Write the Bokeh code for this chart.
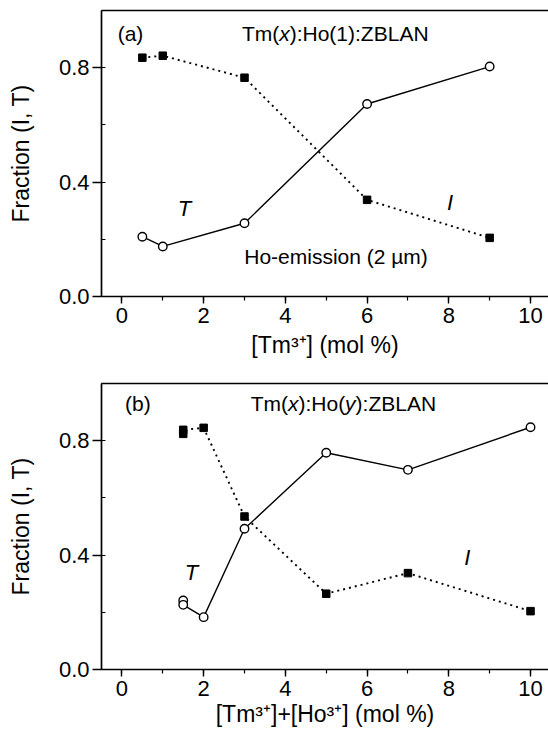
from bokeh.plotting import figure
from bokeh.models import (Range1d, SingleIntervalTicker, PrintfTickFormatter,
                          LinearAxis, Label, FixedTicker)
from bokeh.layouts import column
from bokeh.embed import file_html
from bokeh.resources import INLINE

# ---------------- data ----------------
# panel (a): Tm(x):Ho(1):ZBLAN
a_x = [0.5, 1, 3, 6, 9]
a_T = [0.209, 0.175, 0.256, 0.673, 0.804]
a_I = [0.835, 0.842, 0.765, 0.338, 0.205]

# panel (b): Tm(x):Ho(y):ZBLAN
b_x = [1.5, 1.5, 2, 3, 5, 7, 10]
b_T = [0.241, 0.226, 0.183, 0.492, 0.758, 0.698, 0.847]
b_I = [0.824, 0.838, 0.845, 0.535, 0.265, 0.337, 0.204]

x_ticks_interval = 2
y_ticks_interval = 0.4
y_title = "Fraction (I, T)"
a_x_title = "[Tm³⁺] (mol %)"
b_x_title = "[Tm³⁺]+[Ho³⁺] (mol %)"

FONT = "Liberation Sans"

# Arial / Liberation Sans advance widths (per 1000 em)
W = {' ': 278, '(': 333, ')': 333, ',': 278, ':': 278, '-': 333, '.': 278,
     '%': 889, '[': 278, ']': 278, '+': 584, 'A': 667, 'B': 667, 'F': 611,
     'H': 722, 'I': 278, 'L': 556, 'N': 722, 'T': 611, 'Z': 611, 'a': 556,
     'c': 500, 'e': 556, 'i': 222, 'l': 222, 'm': 833, 'n': 556, 'o': 556,
     'r': 333, 's': 500, 't': 278, 'x': 500, 'y': 500, 'µ': 576}
for d in '0123456789':
    W[d] = 556


def twidth(s, size):
    return sum(W.get(c, 556) for c in s) * size / 1000.0


def rich(p, runs, x, y, size):
    """runs: list of (text, italic). Centered at data point (x, y)."""
    widths = [twidth(t, size) for (t, _) in runs]
    cur = -sum(widths) / 2.0
    for (t, it), w in zip(runs, widths):
        p.add_layout(Label(x=x, y=y, x_offset=cur, text=t, text_font=FONT,
                           text_font_size=f"{size}px",
                           text_font_style="italic" if it else "normal",
                           text_color="black", text_align="left",
                           text_baseline="middle"))
        cur += w


def make_panel(height, top, bottom, xtitle, xtitle_standoff):
    p = figure(width=548, height=height, output_backend="svg",
               toolbar_location=None, x_range=Range1d(-0.5, 10.44),
               y_range=Range1d(0.0, 1.0), min_border_left=101,
               min_border_right=0, min_border_top=top,
               min_border_bottom=bottom)
    p.outline_line_color = None
    p.xgrid.visible = False
    p.ygrid.visible = False
    p.background_fill_color = "white"
    p.border_fill_color = "white"

    p.xaxis.ticker = SingleIntervalTicker(interval=x_ticks_interval, num_minor_ticks=2)
    p.yaxis.ticker = SingleIntervalTicker(interval=y_ticks_interval, num_minor_ticks=2)
    p.yaxis.formatter = PrintfTickFormatter(format="%.1f")
    for ax in (p.xaxis[0], p.yaxis[0]):
        ax.axis_line_width = 1.7
        ax.axis_line_color = "black"
        ax.major_tick_line_width = 1.4
        ax.minor_tick_line_width = 1.2
        ax.major_tick_line_color = "black"
        ax.minor_tick_line_color = "black"
        ax.major_label_text_font = FONT
        ax.major_label_text_font_size = "22px"
        ax.major_label_text_color = "black"
        ax.major_tick_in = 0
        ax.axis_label_text_font = FONT
        ax.axis_label_text_font_size = "23px"
        ax.axis_label_text_font_style = "normal"
        ax.axis_label_text_color = "black"
    p.xaxis.axis_label = xtitle
    p.yaxis.axis_label = y_title
    p.xaxis.major_tick_out = 7
    p.xaxis.minor_tick_out = 4
    p.xaxis.minor_tick_in = 0
    p.xaxis.major_label_standoff = 4
    p.xaxis.axis_label_standoff = xtitle_standoff
    p.yaxis.major_tick_out = 9
    p.yaxis.minor_tick_out = 0
    p.yaxis.minor_tick_in = 4
    p.yaxis.major_label_standoff = 3
    p.yaxis.axis_label_standoff = 22

    top_ax = LinearAxis(ticker=FixedTicker(ticks=[]),
                        axis_line_width=1.7, axis_line_color="black",
                        major_tick_in=0, major_tick_out=0,
                        minor_tick_in=0, minor_tick_out=0,
                        major_label_standoff=0)
    p.add_layout(top_ax, "above")
    return p


def draw_series(p, xs, T, I):
    p.line(xs, I, line_color="black", line_width=1.9, line_dash="2 4")
    p.line(xs, T, line_color="black", line_width=1.4)
    p.scatter(xs, I, marker="square", size=7.5, fill_color="black",
              line_color="black")
    p.scatter(xs, T, marker="circle", size=8.5, fill_color="white",
              line_color="black", line_width=1.4)


# ---------------- panel (a) ----------------
p1 = make_panel(360, 10, 64, a_x_title, 6)
draw_series(p1, a_x, a_T, a_I)
rich(p1, [("(a)", False)], 0.21, 0.921, 21)
rich(p1, [("Tm(", False), ("x", True), ("):Ho(1):ZBLAN", False)], 5.22, 0.921, 21)
rich(p1, [("T", True)], 1.53, 0.307, 22)
rich(p1, [("I", True)], 8.03, 0.33, 22)
rich(p1, [("Ho-emission (2 µm)", False)], 5.24, 0.139, 21)

# ---------------- panel (b) ----------------
p2 = make_panel(369, 23, 60, b_x_title, 2)
draw_series(p2, b_x, b_T, b_I)
rich(p2, [("(b)", False)], 0.39, 0.929, 21)
rich(p2, [("Tm(", False), ("x", True), ("):Ho(", False), ("y", True),
          ("):ZBLAN", False)], 5.42, 0.929, 21)
rich(p2, [("T", True)], 1.70, 0.34, 22)
rich(p2, [("I", True)], 8.45, 0.393, 22)

layout = column(p1, p2, spacing=0)
open("out.html", "w").write(file_html(layout, INLINE))
